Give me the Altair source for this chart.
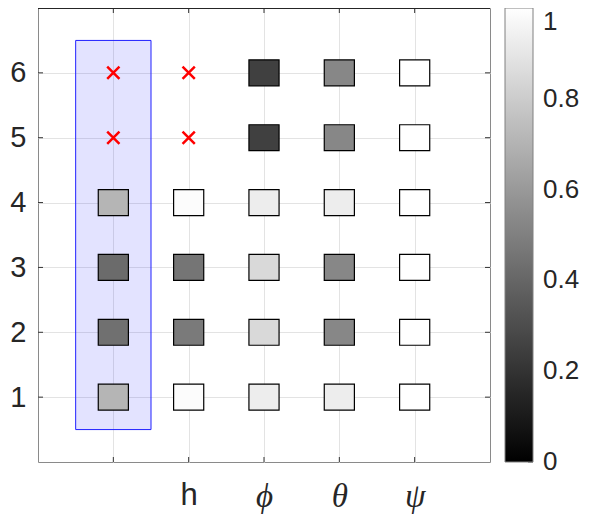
import json
import altair as alt
import pandas as pd

# ---- data ----
x_pos = [1, 2, 3, 4, 5]
x_labels = ["", "h", "ϕ", "θ", "ψ"]
y_pos = [1, 2, 3, 4, 5, 6]
# gray level per column, rows y=1..6 (None = red cross)
col_values = [
    [0.71, 0.44, 0.42, 0.71, None, None],
    [0.99, 0.48, 0.46, 0.99, None, None],
    [0.93, 0.85, 0.85, 0.93, 0.25, 0.25],
    [0.93, 0.53, 0.53, 0.93, 0.53, 0.53],
    [1.00, 1.00, 1.00, 1.00, 1.00, 1.00],
]
cross_x = [1, 1, 2, 2]
cross_y = [5, 6, 5, 6]
highlight_x = [0.5, 1.5]
highlight_y = [0.5, 6.5]
cbar_ticks = [0, 0.2, 0.4, 0.6, 0.8, 1]
cbar_labels = ["0", "0.2", "0.4", "0.6", "0.8", "1"]

W, H = 452, 454
xdom = [0, 6]
ydom = [0, 7]
CB_OFF, CB_W = 15, 28

rows = []
for xi, col in zip(x_pos, col_values):
    for yi, v in zip(y_pos, col):
        if v is not None:
            rows.append({"x": xi, "y": yi, "v": v})
sq = pd.DataFrame(rows)
cross = pd.DataFrame({"x": cross_x, "y": cross_y})
hl = pd.DataFrame({"x0": [highlight_x[0]], "x1": [highlight_x[1]],
                   "y0": [highlight_y[0]], "y1": [highlight_y[1]]})
xt = pd.DataFrame({"x": x_pos})
yt = pd.DataFrame({"y": y_pos})
cb = pd.DataFrame({"t": cbar_ticks, "lab": cbar_labels})

xs = alt.Scale(domain=xdom, nice=False, zero=False)
ys = alt.Scale(domain=ydom, nice=False, zero=False)
cs = alt.Scale(domain=[0, 1], nice=False, zero=False)

label_expr = "%s[datum.value - 1]" % json.dumps(x_labels, ensure_ascii=False)
is_h = "datum.value == 2"

x_axis = alt.Axis(values=x_pos, labelExpr=label_expr, grid=True, gridColor="#e3e3e3",
                  ticks=False, domain=False, labelColor="#262626",
                  labelPadding=18, title=None,
                  labelFontSize={"condition": {"test": is_h, "value": 31}, "value": 33},
                  labelFont={"condition": {"test": is_h, "value": "Liberation Sans"},
                             "value": "Liberation Serif"},
                  labelFontStyle={"condition": {"test": is_h, "value": "normal"},
                                  "value": "italic"})
y_axis = alt.Axis(values=y_pos, format="d", grid=True, gridColor="#e3e3e3", ticks=False,
                  domain=False, labelFontSize=29, labelColor="#262626",
                  labelFont="Liberation Sans", labelPadding=12, title=None)

base_hl = alt.Chart(hl).mark_rect(fill="#0000ff", fillOpacity=0.11, stroke="#2020ff",
                                  strokeWidth=1).encode(
    x=alt.X("x0:Q", scale=xs, axis=x_axis),
    x2="x1:Q",
    y=alt.Y("y0:Q", scale=ys, axis=y_axis),
    y2="y1:Q",
)

squares = alt.Chart(sq).transform_calculate(
    xa="datum.x - 0.2", xb="datum.x + 0.2", ya="datum.y - 0.2", yb="datum.y + 0.2"
).mark_rect(stroke="#000000", strokeWidth=1.2).encode(
    x=alt.X("xa:Q", scale=xs),
    x2="xb:Q",
    y=alt.Y("ya:Q", scale=ys, axis=None),
    y2="yb:Q",
    color=alt.Color("v:Q",
                    scale=alt.Scale(domain=[0, 1], range=["#000000", "#ffffff"], interpolate="rgb"),
                    legend=alt.Legend(title=None, values=cbar_ticks, labelExpr="''",
                                      gradientLength=H, gradientThickness=CB_W,
                                      gradientStrokeColor="#808080", gradientStrokeWidth=1,
                                      offset=CB_OFF, padding=0)),
)

crosses = alt.Chart(cross).mark_point(
    shape="M-1,-1L1,1M1,-1L-1,1", filled=False, stroke="#ff0000", strokeWidth=2.5, size=150,
    opacity=1
).encode(x=alt.X("x:Q", scale=xs), y=alt.Y("y:Q", scale=ys, axis=None))

tick_col = "#333333"
tb = alt.Chart(xt).mark_rule(color=tick_col, strokeWidth=1).encode(
    x=alt.X("x:Q", scale=xs), y=alt.value(H), y2=alt.value(H - 5))
tt = alt.Chart(xt).mark_rule(color=tick_col, strokeWidth=1).encode(
    x=alt.X("x:Q", scale=xs), y=alt.value(0), y2=alt.value(5))
tl = alt.Chart(yt).mark_rule(color=tick_col, strokeWidth=1).encode(
    y=alt.Y("y:Q", scale=ys, axis=None), x=alt.value(0), x2=alt.value(5))
tr = alt.Chart(yt).mark_rule(color=tick_col, strokeWidth=1).encode(
    y=alt.Y("y:Q", scale=ys, axis=None), x=alt.value(W), x2=alt.value(W - 5))
top_border = alt.Chart(xt).mark_rule(color="#262626", strokeWidth=1.5).encode(
    x=alt.value(0), x2=alt.value(W), y=alt.value(0))

# colorbar labels and ticks (own scale, 0..1 along the bar)
cb_text = alt.Chart(cb).mark_text(align="left", baseline="middle", fontSize=26,
                                  font="Liberation Sans", color="#262626",
                                  dy=alt.expr("datum.t >= 1 ? 14 : 0")).encode(
    y=alt.Y("t:Q", scale=cs, axis=None), x=alt.value(W + CB_OFF + CB_W + 10), text="lab:N")
cb_ticks = alt.Chart(cb).mark_rule(color="#444444", strokeWidth=1).encode(
    y=alt.Y("t:Q", scale=cs, axis=None),
    x=alt.value(W + CB_OFF + CB_W - 5), x2=alt.value(W + CB_OFF + CB_W))

chart = alt.layer(base_hl, squares, crosses, tb, tt, tl, tr, top_border,
                  cb_ticks, cb_text).resolve_scale(y="independent").properties(
    width=W, height=H,
    autosize=alt.AutoSizeParams(type="none"),
    padding={"left": 30, "top": 0, "right": 100, "bottom": 60},
).configure_view(stroke="#8a8a8a", strokeWidth=1)

chart.save("out.html", embed_options={"renderer": "svg", "actions": False})
